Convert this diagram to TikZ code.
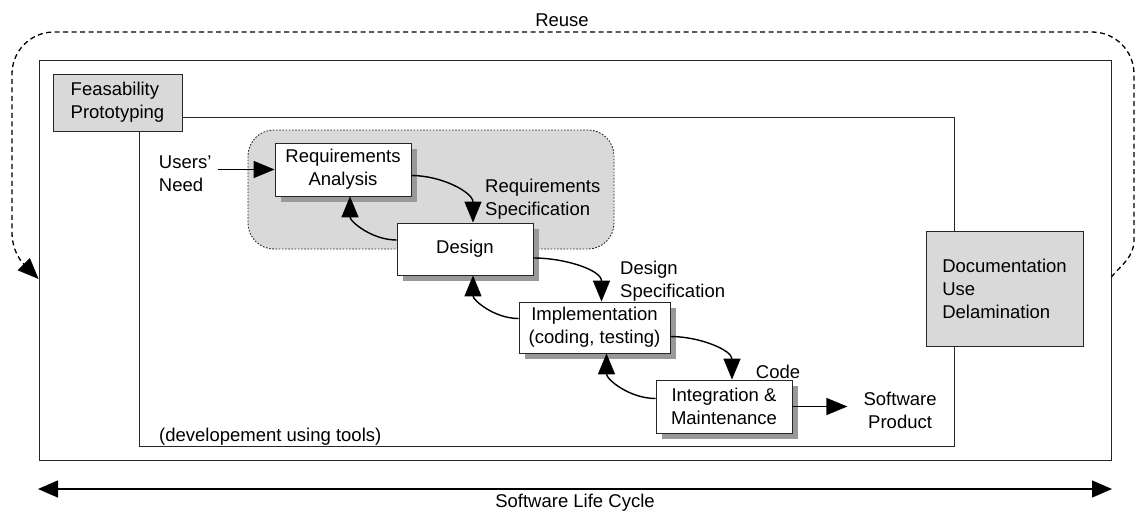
\documentclass[tikz,border=0pt]{standalone}
\usepackage{fontspec}
\setmainfont{Liberation Sans}
\usepackage{xcolor}
\usepackage{tikz}
\usetikzlibrary{arrows.meta,positioning,shadows}

\definecolor{boxgray}{HTML}{D9D9D9}

\begin{document}
\begin{tikzpicture}[x=1pt,y=1pt,
  font=\fontsize{18.5}{23}\selectfont,
  frame/.style={draw=black!85,line width=0.8pt,inner sep=0pt},
  graybox/.style={frame,fill=boxgray,align=left},
  stage/.style={frame,fill=white,align=center,
    drop shadow={shadow xshift=6pt,shadow yshift=-6pt,fill=black!40,opacity=1}},
  region/.style={draw=black!85,line width=0.9pt,dash pattern=on 1.6pt off 1.6pt,fill=boxgray,rounded corners=26pt,inner sep=0pt},
  lbl/.style={align=left,inner sep=6pt},
  arr/.style={-{Triangle[length=21pt,width=17pt]},line width=1.4pt},
  bigarr/.style={{Triangle[length=20pt,width=17pt]}-{Triangle[length=20pt,width=17pt]},line width=1.4pt},
  reuse/.style={-{Triangle[length=21pt,width=17pt]},line width=1.3pt,dash pattern=on 5pt off 3.5pt}
]
\useasboundingbox (0,0) rectangle (1136,-514);

% Life cycle and development frames
\node[frame,minimum width=1072pt,minimum height=400pt] (life) at (575,-260) {};
\node[frame,minimum width=815pt,minimum height=329pt] (dev) at (546.5,-281.5) {};

% Gray side boxes
\node[graybox,minimum width=129pt,minimum height=57pt] (feas) at (117.5,-102.5) {Feasability\\Prototyping};
\node[graybox,minimum width=157pt,minimum height=115pt] (doc) at (1004.5,-288.5) {Documentation\\Use\\Delamination};

% Requirements region
\node[region,minimum width=366pt,minimum height=119pt] (reqregion) at (431,-189.5) {};

% Stages
\node[stage,minimum width=136pt,minimum height=53pt] (reqana) at (343,-169.5) {Requirements\\Analysis};
\node[stage,minimum width=136pt,minimum height=52pt] (design) at (465,-249) {Design};
\node[stage,minimum width=151pt,minimum height=51pt] (impl) at (594.5,-327.5) {Implementation\\(coding, testing)};
\node[stage,minimum width=136pt,minimum height=53pt] (integ) at (724,-406.5) {Integration \&\\Maintenance};

% Labels
\node[lbl,left=57pt of reqana,yshift=-4pt] (users) {Users’\\Need};
\node[lbl,anchor=west] (reqspec) at (479,-199) {Requirements\\Specification};
\node[lbl,anchor=west] (desspec) at (614,-281) {Design\\Specification};
\node[lbl] (code) at (778,-372) {Code};
\node[lbl,align=center,right=65pt of integ,yshift=-4pt] (product) {Software\\Product};
\node[lbl,anchor=west] (devnote) at (153,-437) {(developement using tools)};
\node[lbl] (reuselbl) at (562,-20) {Reuse};
\node[lbl] (lcycle) at (575,-503) {Software Life Cycle};

% Flow arrows
\draw[arr] (users.east |- reqana.west) -- (reqana.west);
\draw[arr] ([yshift=-6pt]reqana.east) to[out=0,in=90] ([xshift=8pt]design.north);
\draw[arr] ([yshift=9pt]design.west) to[out=180,in=-90] ([xshift=7pt]reqana.south);
\draw[arr] ([yshift=-9pt]design.east) to[out=0,in=90] ([xshift=7pt]impl.north);
\draw[arr] ([yshift=9pt]impl.west) to[out=180,in=-90] ([xshift=8pt]design.south);
\draw[arr] ([yshift=-9pt]impl.east) to[out=0,in=90] ([xshift=8pt]integ.north);
\draw[arr] ([yshift=8pt]integ.west) to[out=180,in=-90] ([xshift=12pt]impl.south);
\draw[arr,shorten >=10pt] (integ.east) -- (integ.east -| product.west);

% Reuse loop
\draw[reuse] ([yshift=-17pt]life.east) to[out=50,in=-90] (1134,-240) -- (1134,-74)
  arc[start angle=0,end angle=90,radius=42] -- (54,-32)
  arc[start angle=90,end angle=180,radius=42] -- (12,-232)
  to[out=-90,in=135] ([yshift=-19pt]life.west);

% Life cycle span
\coordinate (lcleft) at (38,-489);
\coordinate (lcright) at (1112,-489);
\draw[bigarr] (lcleft) -- (lcright);

\end{tikzpicture}
\end{document}
